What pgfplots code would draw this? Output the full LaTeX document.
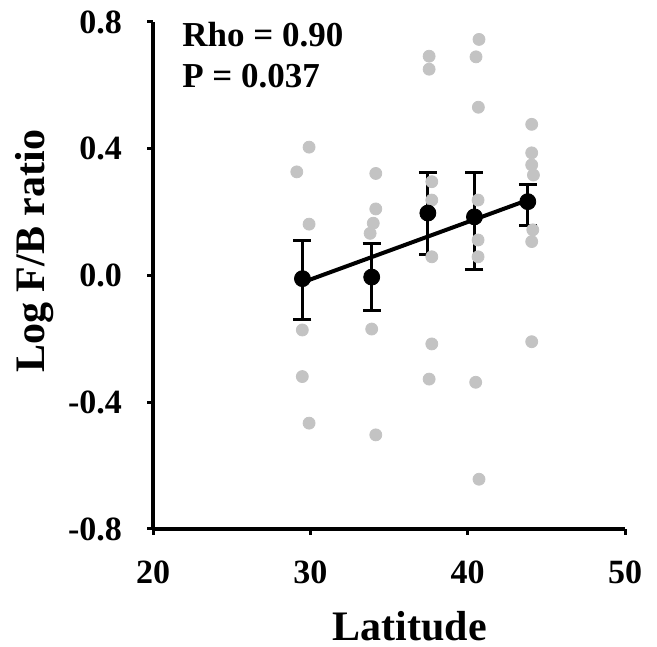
\documentclass[border=0pt]{standalone}
\usepackage{pgfplots}
\pgfplotsset{compat=1.18}
\usepackage{fontspec}
\setmainfont{Liberation Serif}
\definecolor{ptgray}{RGB}{195,195,195}
\begin{document}
\begin{tikzpicture}
\begin{axis}[name=ax,
  width=236pt, height=253.5pt, scale only axis,
  xmin=20, xmax=50, ymin=-0.8, ymax=0.8,
  axis lines=left, axis line style={line width=2pt,-},
  xtick={20,30,40,50}, xticklabels={20,30,40,50},
  ytick={-0.8,-0.4,0,0.4,0.8}, yticklabels={-0.8,-0.4,0.0,0.4,0.8},
  tick align=outside, major tick length=3pt,
  tick style={line width=1.5pt,black},
  ticklabel style={font=\fontsize{17}{17}\selectfont\bfseries},
  xticklabel style={yshift=-9.5pt},
  yticklabel style={xshift=-9pt},
  xlabel={Latitude}, ylabel={Log F/B ratio},
  label style={font=\fontsize{21}{21}\selectfont\bfseries},
  xlabel style={at={(rel axis cs:0.544,-0.219)}, anchor=base, inner sep=0pt},
  ylabel style={at={(rel axis cs:-0.229,0.548)}, anchor=base, inner sep=0pt, rotate=0},
  clip=false,
]
\addplot[only marks, mark=*, mark size=3pt, mark options={fill=ptgray, draw=ptgray}] coordinates {
 (29.92,0.405) (29.14,0.327) (29.92,0.162) (29.49,-0.172) (29.49,-0.319) (29.92,-0.466)
 (34.16,0.322) (34.16,0.210) (34.0,0.165) (33.8,0.133) (33.9,-0.169) (34.16,-0.503)
 (37.55,0.692) (37.55,0.651) (37.72,0.296) (37.72,0.238) (37.72,0.059) (37.72,-0.216) (37.55,-0.327)
 (40.72,0.745) (40.53,0.690) (40.68,0.531) (40.66,0.238) (40.66,0.112) (40.66,0.059) (40.51,-0.337) (40.72,-0.643)
 (44.07,0.477) (44.07,0.387) (44.07,0.349) (44.18,0.317) (44.14,0.144) (44.07,0.107) (44.07,-0.209)
};
\addplot[line width=2pt, black, no marks] coordinates {(29.6,-0.02) (44.2,0.245)};
\addplot[only marks, mark=*, mark size=4pt, black,
  error bars/.cd, y dir=both, y explicit,
  error bar style={line width=1.5pt, black},
  error mark options={rotate=90, mark size=4.5pt, line width=1.5pt, black}]
 coordinates {
 (29.5,-0.01) += (0,0.12) -= (0,0.13)
 (33.9,-0.005) += (0,0.105) -= (0,0.105)
 (37.47,0.197) += (0,0.127) -= (0,0.132)
 (40.43,0.185) += (0,0.14) -= (0,0.165)
 (43.82,0.233) += (0,0.055) -= (0,0.074)
};
\node[anchor=base west, inner sep=0pt, font=\fontsize{17.5}{17.5}\selectfont\bfseries] at (rel axis cs:0.0614,0.951) {Rho = 0.90};
\node[anchor=base west, inner sep=0pt, font=\fontsize{17.5}{17.5}\selectfont\bfseries] at (rel axis cs:0.0614,0.870) {P = 0.037};
\end{axis}
\pgfresetboundingbox
\path[use as bounding box] ([shift={(-76.5pt,-59pt)}]ax.south west) rectangle ([shift={(16pt,11pt)}]ax.north east);
\end{tikzpicture}
\end{document}
